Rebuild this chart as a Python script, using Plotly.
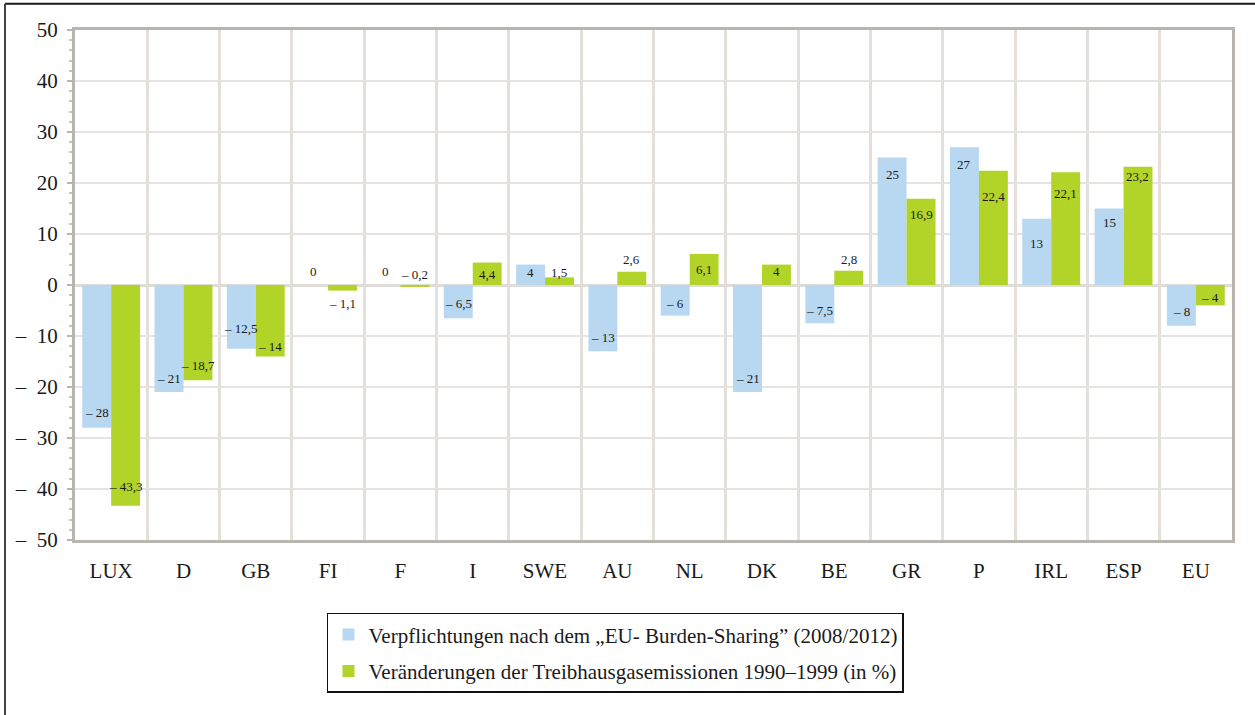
import plotly.graph_objects as go

# Länder und Werte (in %)
laender = ["LUX", "D", "GB", "FI", "F", "I", "SWE", "AU", "NL", "DK",
           "BE", "GR", "P", "IRL", "ESP", "EU"]
verpflichtungen = [-28, -21, -12.5, 0, 0, -6.5, 4, -13, -6, -21,
                   -7.5, 25, 27, 13, 15, -8]
veraenderungen = [-43.3, -18.7, -14, -1.1, -0.2, 4.4, 1.5, 2.6, 6.1, 4,
                  2.8, 16.9, 22.4, 22.1, 23.2, -4]

y_ticks = [-50, -40, -30, -20, -10, 0, 10, 20, 30, 40, 50]

name_blau = "Verpflichtungen nach dem \u201eEU- Burden-Sharing\u201d (2008/2012)"
name_gruen = "Veränderungen der Treibhausgasemissionen 1990\u20131999 (in %)"

# Label placement (pixel shift of each value label relative to its bar end, + = up)
shift_blau = [15, 14, 20, 14, 14, 15, -8, 14, 12, 14, 13, -17, -17, -25, -14, 14]
shift_gruen = [19, 15, 10, -13, 12, -12, 5, 12, -16, -7, 11, -16, -26, -21, -10, 8]

BLAU = "#b7d8f0"
GRUEN = "#b2d428"
SERIF = "Liberation Serif, Times New Roman, serif"


def fmt(v, gap="\u00a0"):
    s = f"{abs(v):g}".replace(".", ",")
    return ("\u2013" + gap + s) if v < 0 else s


x = list(range(len(laender)))

fig = go.Figure()
fig.add_trace(go.Bar(x=x, y=verpflichtungen, name=name_blau, marker_color=BLAU,
                     marker_line_width=0, legendgroup="a"))
fig.add_trace(go.Bar(x=x, y=veraenderungen, name=name_gruen, marker_color=GRUEN,
                     marker_line_width=0, legendgroup="b"))

annotations = []
for i in x:
    for vals, shifts, dx in ((verpflichtungen, shift_blau, -0.2),
                             (veraenderungen, shift_gruen, 0.2)):
        annotations.append(dict(
            x=i + dx, y=vals[i], xref="x", yref="y", text=fmt(vals[i]),
            showarrow=False, yshift=shifts[i], xanchor="center", yanchor="middle",
            font=dict(family=SERIF, size=13, color="#1a1a1a")))

# outer frame lines (top and left)
shapes = [
    dict(type="line", xref="paper", yref="paper", x0=-0.0605, x1=1.05,
         y0=1.0515, y1=1.0515, line=dict(color="#1a1a1a", width=2)),
    dict(type="line", xref="paper", yref="paper", x0=-0.0605, x1=-0.0605,
         y0=1.0515, y1=-0.36, line=dict(color="#444444", width=2)),
]

fig.update_layout(
    width=1255, height=715,
    margin=dict(l=75, r=23, t=30, b=175),
    paper_bgcolor="white", plot_bgcolor="white",
    barmode="group", bargap=0.2, bargroupgap=0,
    font=dict(family=SERIF, color="#1a1a1a"),
    showlegend=True,
    legend=dict(x=0.2178, y=-0.143, xanchor="left", yanchor="top",
                bgcolor="white", bordercolor="#111111", borderwidth=1.5,
                font=dict(family=SERIF, size=21, color="#1a1a1a"),
                tracegroupgap=6, itemsizing="constant"),
    annotations=annotations,
    shapes=shapes,
)

fig.update_xaxes(
    range=[-0.5, len(laender) - 0.5],
    tickmode="array", tickvals=x, ticktext=laender,
    tickfont=dict(family=SERIF, size=21, color="#1a1a1a"),
    ticks="", ticklabelstandoff=10,
    showgrid=False,
    minor=dict(tickmode="array", tickvals=[i + 0.5 for i in x[:-1]],
               showgrid=True, gridcolor="#e3e0dc", gridwidth=3, ticks=""),
    showline=True, linecolor="#b8b4b0", linewidth=3, mirror=True,
    zeroline=False, fixedrange=True,
)

fig.update_yaxes(
    range=[-50, 50],
    tickmode="array", tickvals=y_ticks,
    ticktext=[fmt(v, "\u2002") for v in y_ticks],
    tickfont=dict(family=SERIF, size=21, color="#1a1a1a"),
    ticks="outside", ticklen=5, tickcolor="#b8b4b0", tickwidth=2,
    ticklabelstandoff=5,
    showgrid=True, gridcolor="#e6e3e0", gridwidth=1.5,
    minor=dict(dtick=2, ticks="outside", ticklen=3, tickcolor="#c8c4c0",
               tickwidth=2, showgrid=False),
    showline=True, linecolor="#b8b4b0", linewidth=3, mirror=True,
    zeroline=True, zerolinecolor="#e0dcd8", zerolinewidth=3,
)

fig.write_html("out.html")
